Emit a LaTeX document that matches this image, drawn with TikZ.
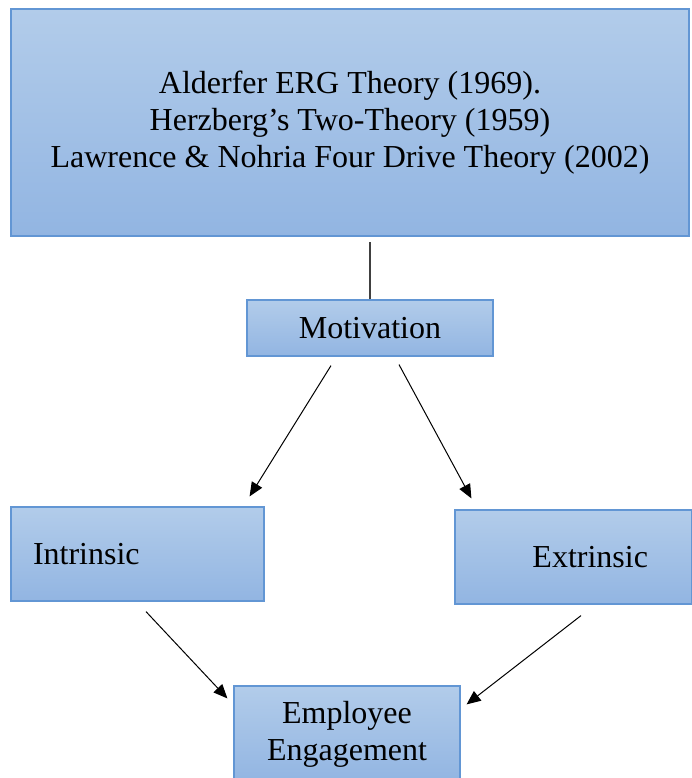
\documentclass[tikz,border=0pt]{standalone}
\usepackage{fontspec}
\setmainfont{Liberation Serif}
\usetikzlibrary{arrows.meta,calc,positioning}

\definecolor{boxtop}{RGB}{178,204,234}
\definecolor{boxbot}{RGB}{146,181,226}
\definecolor{boxline}{RGB}{98,150,212}

\begin{document}
\begin{tikzpicture}[x=0.5pt,y=-0.5pt]
\tikzstyle{main}=[rectangle, draw=boxline, line width=0.6pt, top color=boxtop, bottom color=boxbot, font=\fontsize{16pt}{18.5pt}\selectfont, align=center]
\tikzstyle{connect}=[-{Triangle[length=7pt,width=6pt]}, line width=0.5pt, black]
\tikzstyle{plain}=[line width=0.6pt, black!75]

  \useasboundingbox (0,0) rectangle (692,778);

  \node[main, minimum width=339pt, minimum height=113.5pt] (theories) at (350,122.5)
       {Alderfer ERG Theory (1969).\\Herzberg’s Two-Theory (1959)\\Lawrence \& Nohria Four Drive Theory (2002)};
  \node[main, minimum width=123pt, minimum height=28pt] (mot) at (370,328) {Motivation};
  \node[main, minimum height=47pt, inner xsep=11pt, text width=104.5pt, align=left] (intr) at (137.5,554) {Intrinsic};
  \node[main, minimum height=47pt, inner xsep=22pt, text width=74.5pt, align=right] (extr) at (573.5,557) {Extrinsic};
  \node[main, minimum width=113pt, minimum height=48pt] (eng) at (347,734) {Employee\\Engagement};

  \draw[plain, shorten >=2.5pt] (mot.north) -- (mot.north |- theories.south);

  \draw[connect] ($(mot.south)+(-39,9)$) -- ($(intr.north east)+(-15,-10)$);
  \draw[connect] ($(mot.south)+(29,8)$) -- ($(extr.north west)+(17,-11)$);
  \draw[connect] ($(intr.south)+(8.5,10)$) -- ($(eng.north west)+(-6,13)$);
  \draw[connect] ($(extr.south)+(7.5,11)$) -- ($(eng.north east)+(6,19)$);

\end{tikzpicture}
\end{document}
